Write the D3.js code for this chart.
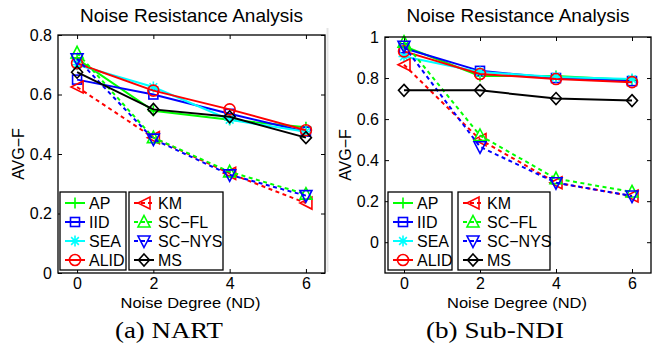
<!DOCTYPE html>
<html><head><meta charset="utf-8">
<script src="https://cdn.jsdelivr.net/npm/d3@7"></script>
<style>body{margin:0;background:#fff}svg{display:block}</style>
</head><body>
<svg id="c" width="652" height="346"></svg>
<script>
// ---- data ----
const noiseDegrees = [0, 2, 4, 6];
const xTicks = [0, 2, 4, 6];
const methodNames = ["AP", "IID", "SEA", "ALID", "KM", "SC\u2212FL", "SC\u2212NYS", "MS"];
const panelTitles = ["Noise Resistance Analysis", "Noise Resistance Analysis"];
const panelCaptions = ["(a) NART", "(b) Sub-NDI"];
const yTicksNART = [0, 0.2, 0.4, 0.6, 0.8];
const yTicksSub = [0, 0.2, 0.4, 0.6, 0.8, 1];

// NART
const nartAP    = [0.72, 0.545, 0.515, 0.49];
const nartIID   = [0.65, 0.60, 0.535, 0.475];
const nartSEA   = [0.70, 0.625, 0.515, 0.475];
const nartALID  = [0.705, 0.613, 0.55, 0.48];
const nartKM    = [0.625, 0.455, 0.335, 0.235];
const nartSCFL  = [0.74, 0.455, 0.34, 0.265];
const nartSCNYS = [0.72, 0.45, 0.33, 0.26];
const nartMS    = [0.675, 0.55, 0.525, 0.455];
// Sub-NDI
const subAP    = [0.955, 0.81, 0.81, 0.79];
const subIID   = [0.945, 0.835, 0.80, 0.785];
const subSEA   = [0.905, 0.83, 0.805, 0.795];
const subALID  = [0.93, 0.82, 0.795, 0.78];
const subKM    = [0.865, 0.50, 0.29, 0.225];
const subSCFL  = [0.975, 0.52, 0.31, 0.245];
const subSCNYS = [0.955, 0.465, 0.29, 0.225];
const subMS    = [0.74, 0.74, 0.70, 0.69];

const colors = ["#00ff00", "#0000ff", "#00ffff", "#ff0000", "#ff0000", "#00ff00", "#0000ff", "#000000"];
const markers = ["plus", "square", "star", "circle", "left", "up", "down", "diamond"];
const dashed = [false, false, false, false, true, true, true, false];

const panels = [
  { series: [nartAP, nartIID, nartSEA, nartALID, nartKM, nartSCFL, nartSCNYS, nartMS],
    yDomain: [0, 0.8], yTicks: yTicksNART, x0: 58, x1: 325, y0: 273, y1: 35,
    legend1: [60, 126], legend2: [129, 223], capX: 169 },
  { series: [subAP, subIID, subSEA, subALID, subKM, subSCFL, subSCNYS, subMS],
    yDomain: [-0.15, 1], yTicks: yTicksSub, x0: 385, x1: 651, y0: 273, y1: 37,
    legend1: [388, 452], legend2: [458, 550], capX: 495 }
];

const svg = d3.select("#c");
const font = "'Liberation Sans', Arial, Helvetica, sans-serif";

svg.append("line").attr("x1", 327.5).attr("x2", 327.5).attr("y1", 28).attr("y2", 272)
  .attr("stroke", "#e4e4e4").attr("stroke-width", 2);

function drawMarker(g, type, cx, cy, color) {
  const m = g.append("g").attr("transform", `translate(${cx},${cy})`)
    .attr("fill", "none").attr("stroke", color).attr("stroke-width", 1.6);
  const r = 5.5;
  if (type === "plus") {
    m.append("path").attr("d", `M${-r},0H${r}M0,${-r}V${r}`);
  } else if (type === "square") {
    m.append("rect").attr("x", -4.5).attr("y", -4.5).attr("width", 9).attr("height", 9);
  } else if (type === "star") {
    const a = r * 0.7;
    m.append("path").attr("d", `M${-r},0H${r}M0,${-r}V${r}M${-a},${-a}L${a},${a}M${-a},${a}L${a},${-a}`);
  } else if (type === "circle") {
    m.append("circle").attr("r", 5.5);
  } else if (type === "left") {
    m.append("path").attr("d", `M${-6},0L${6},${-6}L${6},${6}Z`);
  } else if (type === "up") {
    m.append("path").attr("d", `M0,${-6.5}L${6},${5}L${-6},${5}Z`);
  } else if (type === "down") {
    m.append("path").attr("d", `M0,${6.5}L${6},${-5}L${-6},${-5}Z`);
  } else if (type === "diamond") {
    m.append("path").attr("d", `M0,${-6}L${5.5},0L0,${6}L${-5.5},0Z`);
  }
}

panels.forEach((p, pi) => {
  const x = d3.scaleLinear().domain([-0.5, 6.5]).range([p.x0, p.x1]);
  const y = d3.scaleLinear().domain(p.yDomain).range([p.y0, p.y1]);
  const g = svg.append("g");

  const tickLen = 4;
  const axB = g.append("g").attr("transform", `translate(0,${p.y0})`)
    .call(d3.axisBottom(x).tickValues(xTicks).tickSize(-tickLen).tickPadding(5).tickFormat(d3.format("d")));
  const axT = g.append("g").attr("transform", `translate(0,${p.y1})`)
    .call(d3.axisTop(x).tickValues(xTicks).tickSize(-tickLen).tickFormat(""));
  const axL = g.append("g").attr("transform", `translate(${p.x0},0)`)
    .call(d3.axisLeft(y).tickValues(p.yTicks).tickSize(-tickLen).tickPadding(6).tickFormat(d => d3.format("")(+d.toFixed(1))));
  const axR = g.append("g").attr("transform", `translate(${p.x1},0)`)
    .call(d3.axisRight(y).tickValues(p.yTicks).tickSize(-tickLen).tickFormat(""));
  [axB, axT, axL, axR].forEach(a => {
    a.select(".domain").remove();
    a.selectAll("line").attr("stroke", "#000").attr("stroke-width", 1);
    a.selectAll("text").attr("font-family", font).attr("font-size", 16).attr("fill", "#000");
  });

  const line = d3.line().x((d, i) => x(noiseDegrees[i])).y(d => y(d));
  p.series.forEach((vals, si) => {
    g.append("path").datum(vals).attr("d", line).attr("fill", "none")
      .attr("stroke", colors[si]).attr("stroke-width", 2)
      .attr("stroke-dasharray", dashed[si] ? "4,3.5" : null);
    vals.forEach((v, i) => drawMarker(g, markers[si], x(noiseDegrees[i]), y(v), colors[si]));
  });

  g.append("rect").attr("x", p.x0).attr("y", p.y1).attr("width", p.x1 - p.x0).attr("height", p.y0 - p.y1)
    .attr("fill", "none").attr("stroke", "#000").attr("stroke-width", 1.3);

  g.append("text").attr("x", (p.x0 + p.x1) / 2).attr("y", 22).attr("text-anchor", "middle")
    .attr("font-family", font).attr("font-size", 19).text(panelTitles[pi]);
  g.append("text").attr("x", (p.x0 + p.x1) / 2 - 1).attr("y", 307.5).attr("text-anchor", "middle")
    .attr("font-family", font).attr("font-size", 15.5)
    .attr("textLength", 140).attr("lengthAdjust", "spacingAndGlyphs").text("Noise Degree (ND)");
  const ylx = pi === 0 ? 24 : 351;
  g.append("text").attr("transform", `translate(${ylx},${(p.y0 + p.y1) / 2}) rotate(-90)`)
    .attr("text-anchor", "middle").attr("font-family", font).attr("font-size", 16).text("AVG\u2212F");
  g.append("text").attr("x", p.capX).attr("y", 338).attr("text-anchor", "middle")
    .attr("font-family", "'Liberation Serif', 'Times New Roman', serif").attr("font-size", 23)
    .attr("textLength", pi === 0 ? 108 : 138).attr("lengthAdjust", "spacingAndGlyphs")
    .text(panelCaptions[pi]);

  const rowsY = [203, 222, 241, 260];
  [[p.legend1, 0], [p.legend2, 4]].forEach(([lx, start]) => {
    g.append("rect").attr("x", lx[0]).attr("y", 192).attr("width", lx[1] - lx[0]).attr("height", 78)
      .attr("fill", "#fff").attr("stroke", "#000").attr("stroke-width", 1.3);
    for (let k = 0; k < 4; k++) {
      const si = start + k, ly = rowsY[k];
      const sx = lx[0] + 5;
      g.append("line").attr("x1", sx).attr("x2", sx + 20).attr("y1", ly).attr("y2", ly)
        .attr("stroke", colors[si]).attr("stroke-width", 2)
        .attr("stroke-dasharray", dashed[si] ? "4,3" : null);
      drawMarker(g, markers[si], sx + 10, ly, colors[si]);
      g.append("text").attr("x", sx + 24).attr("y", ly + 5.5).attr("font-family", font)
        .attr("font-size", 16).text(methodNames[si]);
    }
  });
});
</script>
</body></html>
